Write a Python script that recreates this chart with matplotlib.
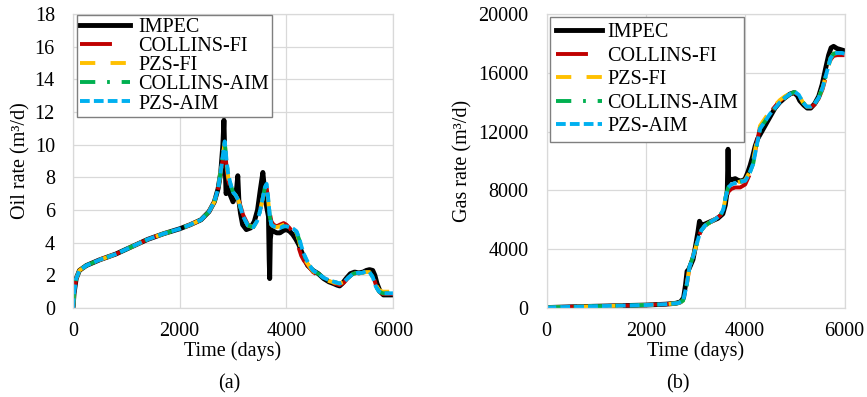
import matplotlib
matplotlib.use('Agg')
import matplotlib.pyplot as plt

plt.rcParams['font.family'] = ['Liberation Serif', 'DejaVu Serif']
plt.rcParams['lines.scale_dashes'] = False

# ---------------- data ----------------
series_names = ['IMPEC', 'COLLINS-FI', 'PZS-FI', 'COLLINS-AIM', 'PZS-AIM']

# oil rate, IMPEC (own time grid, has the spikes)
oil_t_impec = [0, 20, 60, 120, 250, 500, 800, 1100, 1400, 1700,
               2000, 2200, 2400, 2550, 2650, 2720, 2770, 2810, 2830, 2845,
               2870, 2900, 2950, 3000, 3040, 3070, 3090, 3110, 3140, 3180,
               3250, 3330, 3400, 3460, 3510, 3560, 3590, 3630, 3665, 3678,
               3688, 3700, 3720, 3760, 3820, 3880, 3950, 4000, 4060, 4120,
               4180, 4230, 4280, 4340, 4400, 4500, 4600, 4700, 4800, 4880,
               4950, 5000, 5050, 5120, 5200, 5280, 5360, 5440, 5500, 5560,
               5620, 5660, 5700, 5760, 5820, 5900, 6000]
oil_impec = [0, 0.9, 1.8, 2.3, 2.6, 2.95, 3.3, 3.75, 4.2, 4.55,
             4.85, 5.1, 5.4, 5.9, 6.5, 7.3, 8.3, 10.0, 11.5, 9.5,
             7.0, 7.4, 6.9, 6.5, 6.8, 7.4, 8.1, 6.6, 5.8, 5.1,
             4.8, 4.9, 5.3, 6.0, 7.2, 8.3, 7.3, 6.2, 5.6, 3.0,
             1.8, 4.2, 4.8, 4.7, 4.6, 4.6, 4.75, 4.8, 4.7, 4.5,
             4.2, 3.9, 3.5, 3.0, 2.6, 2.3, 2.1, 1.8, 1.6, 1.5,
             1.4, 1.35, 1.5, 1.8, 2.1, 2.2, 2.15, 2.2, 2.3, 2.35,
             2.3, 2.0, 1.5, 1.0, 0.8, 0.8, 0.8]

# oil rate, the four implicit runs share one time grid
oil_t = [0, 20, 60, 120, 250, 500, 800, 1100, 1400, 1700,
         2000, 2200, 2400, 2550, 2650, 2720, 2780, 2820, 2845, 2880,
         2910, 2960, 3000, 3050, 3100, 3190, 3280, 3380, 3450, 3500,
         3550, 3600, 3630, 3660, 3690, 3720, 3760, 3820, 3880, 3950,
         4000, 4060, 4130, 4190, 4240, 4280, 4330, 4380, 4440, 4500,
         4600, 4700, 4800, 4900, 5000, 5080, 5160, 5250, 5330, 5420,
         5500, 5560, 5620, 5680, 5740, 5810, 5900, 6000]
oil_collins_fi = [0, 0.9, 1.8, 2.3, 2.6, 2.95, 3.3, 3.75, 4.2, 4.55,
                  4.85, 5.1, 5.4, 5.9, 6.5, 7.3, 8.5, 9.4, 9.9, 8.6,
                  7.8, 7.3, 7.0, 7.0, 6.7, 5.7, 5.1, 4.95, 5.3, 5.85,
                  6.6, 7.3, 7.4, 6.6, 5.8, 5.3, 5.1, 5.0, 5.1, 5.2,
                  5.1, 4.9, 4.6, 4.2, 3.6, 3.2, 2.9, 2.7, 2.45, 2.2,
                  2.0, 1.75, 1.6, 1.5, 1.4, 1.55, 1.85, 2.1, 2.15, 2.15,
                  2.2, 2.25, 2.05, 1.4, 1.0, 0.85, 0.85, 0.85]
oil_pzs_fi = [0, 0.9, 1.8, 2.3, 2.6, 2.95, 3.3, 3.75, 4.2, 4.55,
              4.85, 5.1, 5.4, 5.9, 6.5, 7.3, 8.6, 9.6, 10.1, 8.9,
              8.0, 7.4, 7.1, 6.9, 6.6, 5.6, 5.05, 4.95, 5.3, 5.85,
              6.6, 7.3, 7.5, 6.6, 5.6, 5.1, 5.0, 4.95, 5.0, 5.1,
              5.15, 5.1, 4.9, 4.6, 4.1, 3.5, 3.1, 2.8, 2.5, 2.25,
              2.05, 1.8, 1.65, 1.55, 1.5, 1.6, 1.85, 2.1, 2.15, 2.15,
              2.2, 2.2, 1.95, 1.4, 1.1, 1.0, 1.0, 1.0]
oil_collins_aim = [0, 0.9, 1.8, 2.3, 2.6, 2.95, 3.3, 3.75, 4.2, 4.55,
                   4.85, 5.1, 5.4, 5.9, 6.5, 7.3, 8.6, 9.6, 10.1, 8.9,
                   8.1, 7.5, 7.1, 6.9, 6.6, 5.6, 5.05, 4.95, 5.3, 5.85,
                   6.6, 7.4, 7.6, 6.7, 5.6, 5.1, 5.0, 4.95, 4.9, 5.0,
                   5.0, 4.95, 4.85, 4.65, 4.2, 3.7, 3.25, 2.9, 2.6, 2.3,
                   2.1, 1.85, 1.7, 1.6, 1.5, 1.6, 1.85, 2.1, 2.15, 2.15,
                   2.25, 2.2, 1.9, 1.3, 1.0, 0.9, 0.9, 0.9]
oil_pzs_aim = [0, 0.9, 1.8, 2.3, 2.6, 2.95, 3.3, 3.75, 4.2, 4.55,
               4.85, 5.1, 5.4, 5.9, 6.5, 7.3, 8.6, 9.6, 10.2, 9.0,
               8.2, 7.5, 7.1, 6.9, 6.6, 5.6, 5.05, 4.95, 5.3, 5.85,
               6.6, 7.4, 7.6, 6.7, 5.6, 5.1, 5.0, 4.95, 4.9, 5.0,
               5.0, 4.95, 4.85, 4.7, 4.3, 3.8, 3.3, 2.95, 2.6, 2.3,
               2.1, 1.85, 1.7, 1.6, 1.5, 1.6, 1.85, 2.1, 2.15, 2.15,
               2.25, 2.2, 1.9, 1.3, 1.0, 0.9, 0.9, 0.9]

# gas rate, IMPEC
gas_t_impec = [0, 500, 1000, 1500, 2000, 2400, 2600, 2700, 2760, 2800,
               2830, 2860, 2900, 2950, 3000, 3050, 3080, 3110, 3150, 3250,
               3350, 3450, 3550, 3600, 3640, 3655, 3665, 3680, 3700, 3750,
               3800, 3850, 3900, 3950, 4000, 4050, 4100, 4150, 4200, 4250,
               4300, 4400, 4500, 4600, 4700, 4800, 4900, 4980, 5050, 5100,
               5180, 5250, 5320, 5400, 5480, 5550, 5620, 5680, 5730, 5780,
               5850, 5950, 6000]
gas_impec = [30, 80, 120, 160, 200, 260, 320, 420, 700, 1600,
             2500, 2600, 2900, 3300, 4200, 5200, 5900, 5700, 5650, 5800,
             5950, 6100, 6400, 7000, 8000, 10800, 9000, 8700, 8700, 8750,
             8800, 8700, 8650, 8650, 8800, 9200, 9700, 10300, 11000, 11500,
             11800, 12400, 13000, 13600, 14000, 14300, 14550, 14650, 14450, 14100,
             13800, 13600, 13600, 13900, 14400, 15200, 16300, 17200, 17700, 17800,
             17650, 17550, 17500]

# gas rate, the four implicit runs
gas_t = [0, 500, 1000, 1500, 2000, 2400, 2650, 2750, 2820, 2880,
         2950, 3020, 3080, 3120, 3190, 3300, 3400, 3500, 3560, 3610,
         3660, 3720, 3800, 3900, 4000, 4080, 4160, 4230, 4300, 4400,
         4500, 4600, 4700, 4800, 4900, 5000, 5080, 5160, 5240, 5320,
         5400, 5480, 5560, 5640, 5720, 5780, 5850, 5950, 6000]
gas_collins_fi = [30, 80, 120, 160, 200, 260, 330, 500, 1500, 2800,
                  3500, 4300, 5000, 5300, 5600, 5850, 6050, 6300, 6600, 7400,
                  7900, 8100, 8200, 8200, 8400, 9000, 9900, 11200, 12300, 12800,
                  13300, 13700, 14100, 14350, 14550, 14650, 14450, 14000, 13700, 13650,
                  13850, 14250, 14900, 15900, 16900, 17150, 17200, 17200, 17200]
gas_pzs_fi = [30, 80, 120, 160, 200, 260, 330, 500, 1500, 2800,
              3500, 4300, 5000, 5300, 5600, 5850, 6050, 6300, 6700, 7600,
              8200, 8400, 8500, 8600, 8700, 9200, 10000, 11300, 12400, 12900,
              13400, 13800, 14150, 14400, 14600, 14700, 14500, 14000, 13700, 13700,
              13900, 14300, 15000, 16000, 17000, 17300, 17350, 17350, 17300]
gas_collins_aim = [30, 80, 120, 160, 200, 260, 330, 500, 1500, 2800,
                   3500, 4300, 5000, 5300, 5600, 5850, 6050, 6300, 6700, 7600,
                   8200, 8400, 8500, 8600, 8650, 9100, 9800, 11000, 12200, 12700,
                   13200, 13600, 14000, 14300, 14550, 14700, 14500, 14000, 13700, 13700,
                   13900, 14300, 15000, 16000, 17000, 17300, 17350, 17350, 17300]
gas_pzs_aim = [30, 80, 120, 160, 200, 260, 330, 500, 1500, 2800,
               3500, 4300, 5000, 5300, 5600, 5850, 6050, 6300, 6700, 7600,
               8200, 8400, 8500, 8600, 8650, 9100, 9800, 11000, 12200, 12700,
               13200, 13600, 14000, 14300, 14550, 14700, 14500, 14000, 13700, 13700,
               13900, 14300, 15000, 16000, 17000, 17300, 17350, 17350, 17300]

x_ticks = [0, 2000, 4000, 6000]
oil_ticks = [0, 2, 4, 6, 8, 10, 12, 14, 16, 18]
gas_ticks = [0, 4000, 8000, 12000, 16000, 20000]

# ---------------- styles ----------------
styles = [
    dict(color='black', lw=3.5, ls='-'),
    dict(color='#C00000', lw=2.8, dashes=(23, 14)),
    dict(color='#FFC000', lw=2.8, dashes=(11, 11)),
    dict(color='#00B050', lw=2.8, dashes=(11, 8.5, 2, 8.5)),
    dict(color='#00B0F0', lw=2.8, dashes=(7, 3)),
]
grid_c = '#D9D9D9'
fs = 14.5

fig = plt.figure(figsize=(8.67, 3.97), dpi=100)
axL = fig.add_axes([73 / 867, 89 / 397, 320 / 867, 294 / 397])
axR = fig.add_axes([546.5 / 867, 89 / 397, 298 / 867, 294 / 397])


def setup(ax, yticks, ylabel, ylab_x):
    ax.set_xlim(0, 6000)
    ax.set_ylim(yticks[0], yticks[-1])
    ax.set_xticks(x_ticks)
    ax.set_yticks(yticks)
    ax.grid(True, color=grid_c, lw=0.9)
    ax.set_axisbelow(True)
    for s in ax.spines.values():
        s.set_color(grid_c)
        s.set_linewidth(0.9)
    ax.tick_params(length=0, labelsize=fs, pad=13)
    ax.tick_params(axis='x', pad=10)
    ax.set_ylabel(ylabel, fontsize=fs)
    ax.yaxis.set_label_coords(ylab_x, 0.5)


oil_sets = [(oil_t_impec, oil_impec), (oil_t, oil_collins_fi), (oil_t, oil_pzs_fi),
            (oil_t, oil_collins_aim), (oil_t, oil_pzs_aim)]
gas_sets = [(gas_t_impec, gas_impec), (gas_t, gas_collins_fi), (gas_t, gas_pzs_fi),
            (gas_t, gas_collins_aim), (gas_t, gas_pzs_aim)]

for (t, v), name, st in zip(oil_sets, series_names, styles):
    axL.plot(t, v, label=name, **st)
for (t, v), name, st in zip(gas_sets, series_names, styles):
    axR.plot(t, v, label=name, **st)

setup(axL, oil_ticks, 'Oil rate (m³/d)', -0.134)
setup(axR, gas_ticks, 'Gas rate (m³/d)', -0.25)

legkw = dict(loc='upper left', fontsize=fs, frameon=True, fancybox=False,
             edgecolor='#7F7F7F', framealpha=1, borderaxespad=0)
lgL = axL.legend(bbox_to_anchor=(77 / 867, 1 - 15 / 397), bbox_transform=fig.transFigure,
                 labelspacing=0.0, borderpad=0.15, handlelength=2.5, handletextpad=0.4,
                 **legkw)
lgR = axR.legend(bbox_to_anchor=(550 / 867, 1 - 17 / 397), bbox_transform=fig.transFigure,
                 labelspacing=0.22, borderpad=0.3, handlelength=2.3, handletextpad=0.25,
                 **legkw)
for lg in (lgL, lgR):
    lg.get_frame().set_linewidth(1.0)

fig.text(233 / 867, 1 - 356 / 397, 'Time (days)', ha='center', va='baseline', fontsize=fs)
fig.text(696 / 867, 1 - 356 / 397, 'Time (days)', ha='center', va='baseline', fontsize=fs)
fig.text(229 / 867, 1 - 388 / 397, '(a)', ha='center', va='baseline', fontsize=fs)
fig.text(678 / 867, 1 - 388 / 397, '(b)', ha='center', va='baseline', fontsize=fs)

fig.savefig('out.png', dpi=100)
